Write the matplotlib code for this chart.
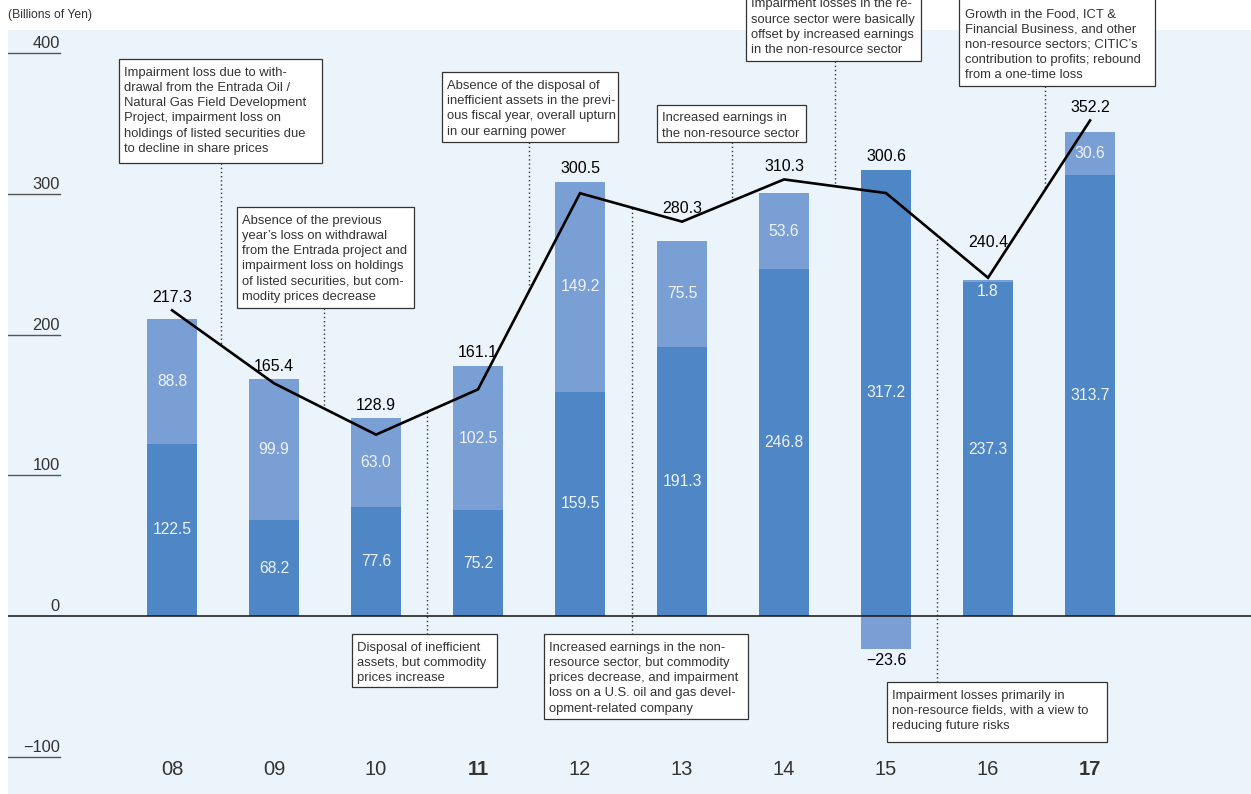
import numpy as np
import matplotlib.pyplot as plt
from matplotlib.patches import Rectangle

plt.rcParams['font.family'] = ['Liberation Sans', 'DejaVu Sans']

# Data (billions of yen)
years = ['08', '09', '10', '11', '12', '13', '14', '15', '16', '17']
non_resource = [122.5, 68.2, 77.6, 75.2, 159.5, 191.3, 246.8, 317.2, 237.3, 313.7]
resource = [88.8, 99.9, 63.0, 102.5, 149.2, 75.5, 53.6, -23.6, 1.8, 30.6]
net_profit = [217.3, 165.4, 128.9, 161.1, 300.5, 280.3, 310.3, 300.6, 240.4, 352.2]
bold_years = ['11', '17']
y_ticks = [400, 300, 200, 100, 0, -100]

# Annotation notes: (text, box left, box right, box top, box bottom, leader x)
notes = [
    ("Impairment loss due to with-\ndrawal from the Entrada Oil /\nNatural Gas Field Development\n"
     "Project, impairment loss on\nholdings of listed securities due\nto decline in share prices",
     -0.52, 1.47, 395.9, 322.0, 0.48),
    ("Absence of the previous\nyear\u2019s loss on withdrawal\nfrom the Entrada project and\n"
     "impairment loss on holdings\nof listed securities, but com-\nmodity prices decrease",
     0.64, 2.37, 290.7, 218.9, 1.49),
    ("Disposal of inefficient\nassets, but commodity\nprices increase",
     1.76, 3.19, -12.8, -50.5, 2.5),
    ("Absence of the disposal of\ninefficient assets in the previ-\nous fiscal year, overall upturn\n"
     "in our earning power",
     2.65, 4.37, 386.6, 336.9, 3.5),
    ("Increased earnings in the non-\nresource sector, but commodity\nprices decrease, and impairment\n"
     "loss on a U.S. oil and gas devel-\nopment-related company",
     3.65, 5.65, -12.8, -73.2, 4.51),
    ("Increased earnings in\nthe non-resource sector",
     4.75, 6.22, 363.5, 336.9, 5.49),
    ("Impairment losses in the re-\nsource sector were basically\noffset by increased earnings\n"
     "in the non-resource sector",
     5.63, 7.34, 470.0, 394.5, 6.5),
    ("Growth in the Food, ICT &\nFinancial Business, and other\nnon-resource sectors; CITIC\u2019s\n"
     "contribution to profits; rebound\nfrom a one-time loss",
     7.72, 9.64, 470.0, 376.7, 8.56),
    ("Impairment losses primarily in\nnon-resource fields, with a view to\nreducing future risks",
     7.01, 9.17, -46.9, -89.6, 7.5),
]

dark = '#4f86c6'
light = '#7a9fd5'
text_col = '#333333'
bar_txt = '#eef2f9'

fig = plt.figure(figsize=(12.51, 7.94), dpi=100)
ax = fig.add_axes([8 / 1251, 0, 1243 / 1251, 764 / 794])
ax.set_facecolor('#ebf3fb')
ax.set_xlim(-1.608, 10.578)
ax.set_ylim(-126.5, 416.5)
for s in ax.spines.values():
    s.set_visible(False)
ax.set_xticks([])
ax.set_yticks([])

x = np.arange(len(years))
nr = np.array(non_resource)
rs = np.array(resource)
tot = np.array(net_profit)

# Stacked bars
ax.bar(x, nr, width=0.49, color=dark, zorder=2)
ax.bar(x, rs, width=0.49, bottom=np.where(rs > 0, nr, 0), color=light, zorder=2)

# Segment labels
for i in range(len(years)):
    ax.text(x[i], nr[i] / 2, f"{nr[i]:.1f}", ha='center', va='center',
            fontsize=11.3, color=bar_txt, zorder=4)
    if rs[i] < 0:
        ax.annotate(f"\u2212{abs(rs[i]):.1f}", (x[i], rs[i]), xytext=(0, -3),
                    textcoords='offset points', ha='center', va='top',
                    fontsize=11.5, color='black', zorder=4)
    elif rs[i] < 10:
        ax.annotate(f"{rs[i]:.1f}", (x[i], nr[i] + rs[i]), xytext=(0, -3),
                    textcoords='offset points', ha='center', va='top',
                    fontsize=11.3, color=bar_txt, zorder=4)
    else:
        ax.text(x[i], nr[i] + rs[i] / 2, f"{rs[i]:.1f}", ha='center', va='center',
                fontsize=11.3, color=bar_txt, zorder=4)

# Net profit line
ax.plot(x, tot, color='black', lw=1.9, zorder=5, solid_joinstyle='miter')
for i in range(len(years)):
    top = max(tot[i], nr[i] + max(rs[i], 0))
    off = 20 if years[i] == '16' else 4
    ax.annotate(f"{tot[i]:.1f}", (x[i], top), xytext=(0, off),
                textcoords='offset points', ha='center', va='bottom',
                fontsize=11.5, color='black', zorder=6)

# Y axis ticks drawn as short rules
for v in y_ticks:
    if v == 0:
        ax.axhline(0, color='#222222', lw=1.2, zorder=3)
    else:
        ax.plot([-1.608, -1.10], [v, v], color='#555555', lw=1, zorder=1)
    lab = f"\u2212{abs(v)}" if v < 0 else str(v)
    ax.annotate(lab, (-1.10, v), xytext=(0, 1.5), textcoords='offset points',
                ha='right', va='bottom', fontsize=11.8, color=text_col)

# Year labels
for i, yr in enumerate(years):
    ax.text(x[i], -109, yr, ha='center', va='center', fontsize=14.5, color=text_col,
            fontweight='bold' if yr in bold_years else 'normal')

# Annotation boxes with dotted leaders
for text, x0, x1, y0, y1, lx in notes:
    ax.add_patch(Rectangle((x0, y1), x1 - x0, y0 - y1, facecolor='white',
                           edgecolor='#333333', lw=0.9, zorder=7, clip_on=False))
    if y0 > 420:
        ax.text(x0 + 0.05, y1 + 3.5, text, ha='left', va='bottom', fontsize=9.4,
                color=text_col, linespacing=1.36, zorder=8, clip_on=False)
    else:
        ax.text(x0 + 0.05, y0 - 5.5, text, ha='left', va='top', fontsize=9.4,
                color=text_col, linespacing=1.36, zorder=8)
    ly = np.interp(lx, x, tot)
    if y1 > 0:
        ax.plot([lx, lx], [y1, ly], color='#333333', lw=1, ls=(0, (1, 2)), zorder=1)
    else:
        ax.plot([lx, lx], [ly, y0], color='#333333', lw=1, ls=(0, (1, 2)), zorder=1)

fig.text(8 / 1251, 1 - 15 / 794, "(Billions of Yen)", ha='left', va='center',
         fontsize=8.7, color=text_col)

fig.savefig('out.png', dpi=100)
